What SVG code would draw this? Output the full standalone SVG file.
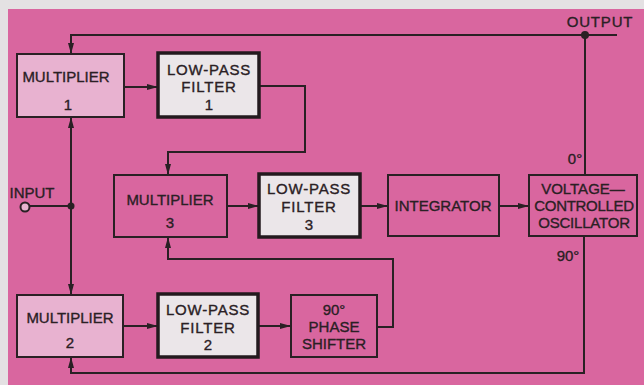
<svg xmlns="http://www.w3.org/2000/svg" width="644" height="385" viewBox="0 0 644 385">
<style>
text{font-family:"Liberation Sans",Arial,sans-serif;font-size:15px;fill:#2a2024;stroke:#2a2024;stroke-width:0.35px;text-anchor:middle}
.sp{letter-spacing:0.8px}
.mul{fill:#e8b2d0;stroke:#2a2024;stroke-width:2}
.lpf{fill:#ebe6e9;stroke:#231a1e;stroke-width:3.5}
.blk{fill:#d9669f;stroke:#2a2024;stroke-width:2}
.wire{fill:none;stroke:#2a2024;stroke-width:2}
.arr{marker-end:url(#ah)}
</style>
<defs>
<marker id="ah" viewBox="0 0 11 6" refX="11" refY="3" markerWidth="11" markerHeight="6" markerUnits="userSpaceOnUse" orient="auto">
<path d="M0,0 L11,3 L0,6 Z" fill="#2a2024"/>
</marker>
</defs>
<rect width="644" height="385" fill="#e4e1e3"/>
<rect x="8" y="9" width="636" height="376" fill="#d9669f"/>
<g id="connectors">
<path class="wire arr" d="M617,35 H71 V54"/>
<path class="wire" d="M585,35 V175"/>
<circle cx="585" cy="35" r="4" fill="#2a2024"/>
<path class="wire arr" d="M124,87 H158"/>
<path class="wire arr" d="M259,86 H305 V152 H168 V175"/>
<circle cx="25" cy="207" r="4.5" fill="#e8b2d0" stroke="#2a2024" stroke-width="2"/>
<path class="wire" d="M29.5,206 H71"/>
<circle cx="71" cy="206" r="3.5" fill="#2a2024"/>
<path class="wire arr" d="M71,206 V117"/>
<path class="wire arr" d="M71,206 V295"/>
<path class="wire arr" d="M227,206 H259"/>
<path class="wire arr" d="M360,206 H388"/>
<path class="wire arr" d="M499,206 H529"/>
<path class="wire arr" d="M584,236 V373 H71 V357"/>
<path class="wire arr" d="M123,326 H158"/>
<path class="wire arr" d="M258,326 H291"/>
<path class="wire arr" d="M377,327 H393 V259 H168 V237"/>
</g>
<g id="output-label"><text x="600" y="27" class="sp">OUTPUT</text></g>
<g id="input-label"><text x="32" y="198">INPUT</text></g>
<g id="phase0"><text x="575" y="164">0°</text></g>
<g id="phase90"><text x="568" y="261">90°</text></g>
<g id="multiplier1">
<rect class="mul" x="17" y="54" width="107" height="63"/>
<text x="66" y="82">MULTIPLIER</text>
<text x="68" y="110">1</text>
</g>
<g id="lpf1">
<rect class="lpf" x="158" y="53" width="101" height="64"/>
<text x="209" y="75" class="sp">LOW-PASS</text>
<text x="209" y="92" class="sp">FILTER</text>
<text x="209" y="110">1</text>
</g>
<g id="multiplier3">
<rect class="blk" x="114" y="175" width="113" height="62"/>
<text x="170" y="205">MULTIPLIER</text>
<text x="170" y="228">3</text>
</g>
<g id="lpf3">
<rect class="lpf" x="259" y="174" width="101" height="63"/>
<text x="309" y="194" class="sp">LOW-PASS</text>
<text x="309" y="212" class="sp">FILTER</text>
<text x="309" y="230">3</text>
</g>
<g id="integrator">
<rect class="blk" x="388" y="175" width="111" height="61"/>
<text x="443" y="211">INTEGRATOR</text>
</g>
<g id="vco">
<rect class="blk" x="529" y="175" width="108" height="61"/>
<text x="583" y="194">VOLTAGE—</text>
<text x="584" y="211" style="letter-spacing:-0.3px">CONTROLLED</text>
<text x="584" y="228" style="letter-spacing:-0.2px">OSCILLATOR</text>
</g>
<g id="multiplier2">
<rect class="mul" x="17" y="295" width="106" height="62"/>
<text x="70" y="323">MULTIPLIER</text>
<text x="70" y="348">2</text>
</g>
<g id="lpf2">
<rect class="lpf" x="158" y="294" width="100" height="63"/>
<text x="208" y="315" class="sp">LOW-PASS</text>
<text x="208" y="333" class="sp">FILTER</text>
<text x="208" y="350">2</text>
</g>
<g id="phase-shifter">
<rect class="blk" x="291" y="295" width="86" height="62"/>
<text x="334" y="315">90°</text>
<text x="334" y="332">PHASE</text>
<text x="334" y="349">SHIFTER</text>
</g>
</svg>
